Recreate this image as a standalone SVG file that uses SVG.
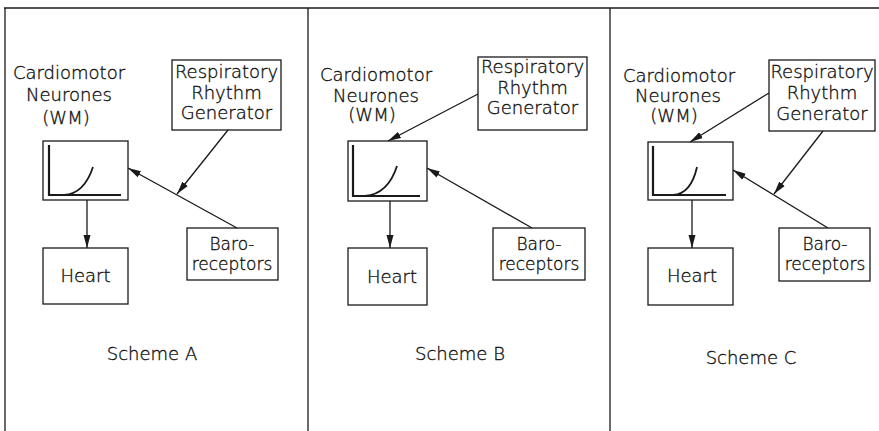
<svg xmlns="http://www.w3.org/2000/svg" width="879" height="431" viewBox="0 0 879 431">
<defs>
<style>
.t{font-family:"DejaVu Sans","Liberation Sans",sans-serif;font-size:18px;font-weight:300;fill:#111;stroke:#111;stroke-width:0.35;text-anchor:middle}
.s{font-size:17px}
.box{fill:none;stroke:#1a1a1a;stroke-width:1.3}
.ax{fill:none;stroke:#1a1a1a;stroke-width:2.2}
.cv{fill:none;stroke:#1a1a1a;stroke-width:1.8}
.ln{fill:none;stroke:#1a1a1a;stroke-width:1.3;marker-end:url(#ah)}
.frame{fill:none;stroke:#1a1a1a;stroke-width:1.3}
</style>
<marker id="ah" markerUnits="userSpaceOnUse" markerWidth="14" markerHeight="8" refX="13" refY="4" orient="auto">
<path d="M0,0.5 L13,4 L0,7.5 z" fill="#1a1a1a"/>
</marker>
</defs>
<g id="frame">
<path class="frame" d="M4,8 H879 M5,8 V431 M308,8 V431 M610,8 V431"/>
</g>
<!-- Scheme A -->
<g id="A-neurones">
<text class="t" x="69" y="79">Cardiomotor</text>
<text class="t" x="69" y="101">Neurones</text>
<text class="t" x="66" y="124">(WM)</text>
<rect class="box" x="43" y="141" width="85" height="59"/>
<path class="ax" d="M49,145 V195 H121"/>
<path class="cv" d="M64,195 Q84,194 93,167"/>
</g>
<g id="A-resp">
<rect class="box" x="172" y="60" width="109" height="70"/>
<text class="t" x="226.5" y="78">Respiratory</text>
<text class="t" x="226.5" y="99">Rhythm</text>
<text class="t" x="226.5" y="119">Generator</text>
</g>
<g id="A-baro">
<rect class="box" x="187" y="228" width="91" height="52"/>
<text class="t s" x="232" y="250">Baro-</text>
<text class="t s" x="232" y="270">receptors</text>
</g>
<g id="A-heart">
<rect class="box" x="43" y="248" width="85" height="56"/>
<text class="t" x="85.5" y="282">Heart</text>
</g>
<text id="A-label" class="t" x="152" y="360">Scheme  A</text>
<!-- Scheme B -->
<g id="B-neurones">
<text class="t" x="376" y="81">Cardiomotor</text>
<text class="t" x="376" y="102">Neurones</text>
<text class="t" x="372" y="121">(WM)</text>
<rect class="box" x="348" y="141" width="79" height="60"/>
<path class="ax" d="M353,145 V196 H420"/>
<path class="cv" d="M365,196 Q388,194 397,166"/>
</g>
<g id="B-resp">
<rect class="box" x="478" y="57" width="109" height="73"/>
<text class="t" x="532.5" y="73">Respiratory</text>
<text class="t" x="532.5" y="94">Rhythm</text>
<text class="t" x="532.5" y="114">Generator</text>
</g>
<g id="B-baro">
<rect class="box" x="493" y="228" width="92" height="52"/>
<text class="t s" x="539" y="250">Baro-</text>
<text class="t s" x="539" y="270">receptors</text>
</g>
<g id="B-heart">
<rect class="box" x="348" y="248" width="79" height="57"/>
<text class="t" x="392" y="283">Heart</text>
</g>
<text id="B-label" class="t" x="460" y="360">Scheme  B</text>
<!-- Scheme C -->
<g id="C-neurones">
<text class="t" x="679" y="82">Cardiomotor</text>
<text class="t" x="678" y="102">Neurones</text>
<text class="t" x="674" y="122">(WM)</text>
<rect class="box" x="648" y="142" width="85" height="58"/>
<path class="ax" d="M653,146 V195 H726"/>
<path class="cv" d="M673,195 Q691,194 697,167"/>
</g>
<g id="C-resp">
<rect class="box" x="769" y="60" width="106" height="71"/>
<text class="t" x="822" y="78">Respiratory</text>
<text class="t" x="822" y="99">Rhythm</text>
<text class="t" x="822" y="120">Generator</text>
</g>
<g id="C-baro">
<rect class="box" x="779" y="228" width="91" height="53"/>
<text class="t s" x="825" y="250">Baro-</text>
<text class="t s" x="825" y="270">receptors</text>
</g>
<g id="C-heart">
<rect class="box" x="648" y="248" width="85" height="57"/>
<text class="t" x="692" y="282">Heart</text>
</g>
<text id="C-label" class="t" x="751" y="364">Scheme  C</text>
<g id="connectors">
<line class="ln" x1="87" y1="200" x2="87" y2="248"/>
<line class="ln" x1="237" y1="228" x2="128" y2="168"/>
<line class="ln" x1="228" y1="130" x2="177" y2="194"/>
<line class="ln" x1="390" y1="201" x2="390" y2="248"/>
<line class="ln" x1="532" y1="228" x2="427" y2="168"/>
<line class="ln" x1="478" y1="94" x2="388" y2="141"/>
<line class="ln" x1="692" y1="200" x2="692" y2="248"/>
<line class="ln" x1="828" y1="228" x2="733" y2="170"/>
<line class="ln" x1="769" y1="93" x2="690" y2="142"/>
<line class="ln" x1="823" y1="131" x2="774" y2="194"/>
</g>
</svg>
